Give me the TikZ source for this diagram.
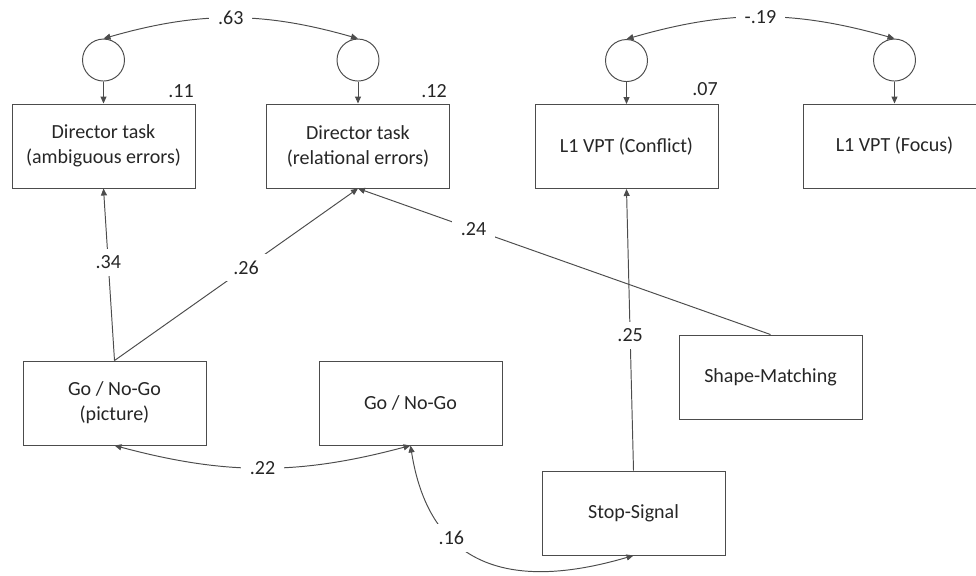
\documentclass[tikz,border=0pt]{standalone}
\usepackage{fontspec}
\setmainfont{Carlito}
\usetikzlibrary{arrows.meta,positioning}

\begin{document}
\begin{tikzpicture}[x=0.02cm, y=-0.02cm,
    every node/.style={font=\fontsize{11.4}{14.2}\selectfont, text=black!85},
    var/.style={draw=black!70, line width=0.55pt, minimum width=3.66cm, minimum height=1.68cm, align=center},
    err/.style={draw=black!70, circle, line width=0.55pt, minimum size=0.84cm, inner sep=0pt},
    reg/.style={draw=black!70, line width=0.55pt, -{Triangle[length=1.4mm, width=1.2mm]}},
    cov/.style={draw=black!70, line width=0.55pt, {Triangle[length=1.4mm, width=1.2mm]}-{Triangle[length=1.4mm, width=1.2mm]}},
    coef/.style={fill=white, inner xsep=5pt, inner ysep=4pt}]
    \useasboundingbox (0,0) rectangle (976,575);
    % observed variables
    \node (dira) [var] at (103.5,146) {Director task\\(ambiguous errors)};
    \node (dirr) [var] at (358,146) {Director task\\(relational errors)};
    \node (conf) [var] at (626.5,146.5) {L1 VPT (Conflict)};
    \node (focus) [var] at (894.5,146) {L1 VPT (Focus)};
    \node (gopic) [var] at (114.5,403) {Go / No-Go\\(picture)};
    \node (gonogo) [var] at (410.5,403) {Go / No-Go};
    \node (shape) [var] at (770.5,377) {Shape-Matching};
    \node (stop) [var] at (633.5,513) {Stop-Signal};
    % residuals
    \node (ea) [err, above=0.44cm of dira] {};
    \node (er) [err, above=0.44cm of dirr] {};
    \node (ec) [err, above=0.44cm of conf] {};
    \node (ef) [err, above=0.44cm of focus] {};
    \node (r2a) at (181,91) {.11};
    \node (r2r) at (434,91) {.12};
    \node (r2c) at (705,89) {.07};
    \draw[reg] (ea) -- (dira);
    \draw[reg] (er) -- (dirr);
    \draw[reg] (ec) -- (conf);
    \draw[reg] (ef) -- (focus);
    \draw[cov] (ea.north) to[bend left=16] node[coef] {.63} (er.north);
    \draw[cov] (ec.north) to[bend left=16] node[coef] {-.19} (ef.north);
    % paths
    \draw[reg] (gopic.north) -- node[coef, pos=0.57] {.34} (dira.south);
    \draw[reg] (gopic.north) -- node[coef, pos=0.54] {.26} (dirr.south);
    \draw[reg] (shape.north) -- node[coef, pos=0.72] {.24} (dirr.south);
    \draw[reg] (stop.north) -- node[coef, pos=0.48] {.25} (conf.south);
    \draw[cov] (gopic.south) to[bend right=15] node[coef] {.22} (gonogo.south);
    \draw[cov] (gonogo.south) .. controls +(15,95) and +(-153,45) .. node[coef, pos=0.4] {.16} (stop.south);
\end{tikzpicture}
\end{document}
